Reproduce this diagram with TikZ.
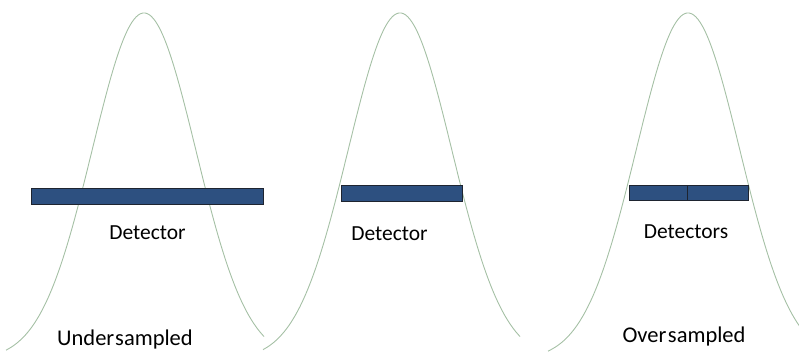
\documentclass[tikz,border=0pt]{standalone}
\usepackage{fontspec}
\setmainfont{Carlito}
\definecolor{curvegreen}{RGB}{165,192,165}
\definecolor{barfill}{RGB}{45,80,128}
\definecolor{baredge}{RGB}{30,36,48}
\begin{document}
\begin{tikzpicture}[x=1pt,y=-1pt,
  gauss/.style={draw=curvegreen,line width=0.9pt},
  detbar/.style={draw=baredge,fill=barfill,line width=1pt,inner sep=0pt,
    rectangle,anchor=center},
  lbl/.style={inner sep=0pt,anchor=base,font=\fontsize{21.5}{24}\selectfont},
  biglbl/.style={inner sep=0pt,anchor=base,font=\fontsize{22.5}{26}\selectfont}]
\useasboundingbox (0,0) rectangle (799,351);
\clip (0,0) rectangle (799,351);
% Gaussian profiles: y = 360 - 347 exp(-d^2/5350)
\draw[gauss] plot[domain=-138:120,samples=120,smooth]
  ({144+\x},{360-347*exp(-(\x/100)*(\x/100)/0.535)});
\draw[gauss] plot[domain=-137:120,samples=120,smooth]
  ({400+\x},{360-347*exp(-(\x/100)*(\x/100)/0.535)});
\draw[gauss] plot[domain=-140:115,samples=120,smooth]
  ({688+\x},{360-347*exp(-(\x/100)*(\x/100)/0.535)});
% detectors
\node[detbar,minimum width=232pt,minimum height=16pt] (bar1) at (147,196) {};
\node[detbar,minimum width=121pt,minimum height=16pt] (bar2) at (401.5,193) {};
\node[detbar,minimum width=58pt,minimum height=15pt] (bar3a) at (658,192.5) {};
\node[detbar,minimum width=61pt,minimum height=15pt] (bar3b) at (717.5,192.5) {};
% labels
\node[lbl] (det1) at (147.5,239) {Detector};
\node[lbl] (det2) at (389.5,240) {Detector};
\node[lbl] (det3) at (686,238) {Detectors};
\node[biglbl] (under) at (125,345.5) {Under\hspace{0.04em}sampled};
\node[biglbl] (over) at (684,342.5) {Over\hspace{0.07em}sampled};
\end{tikzpicture}
\end{document}
